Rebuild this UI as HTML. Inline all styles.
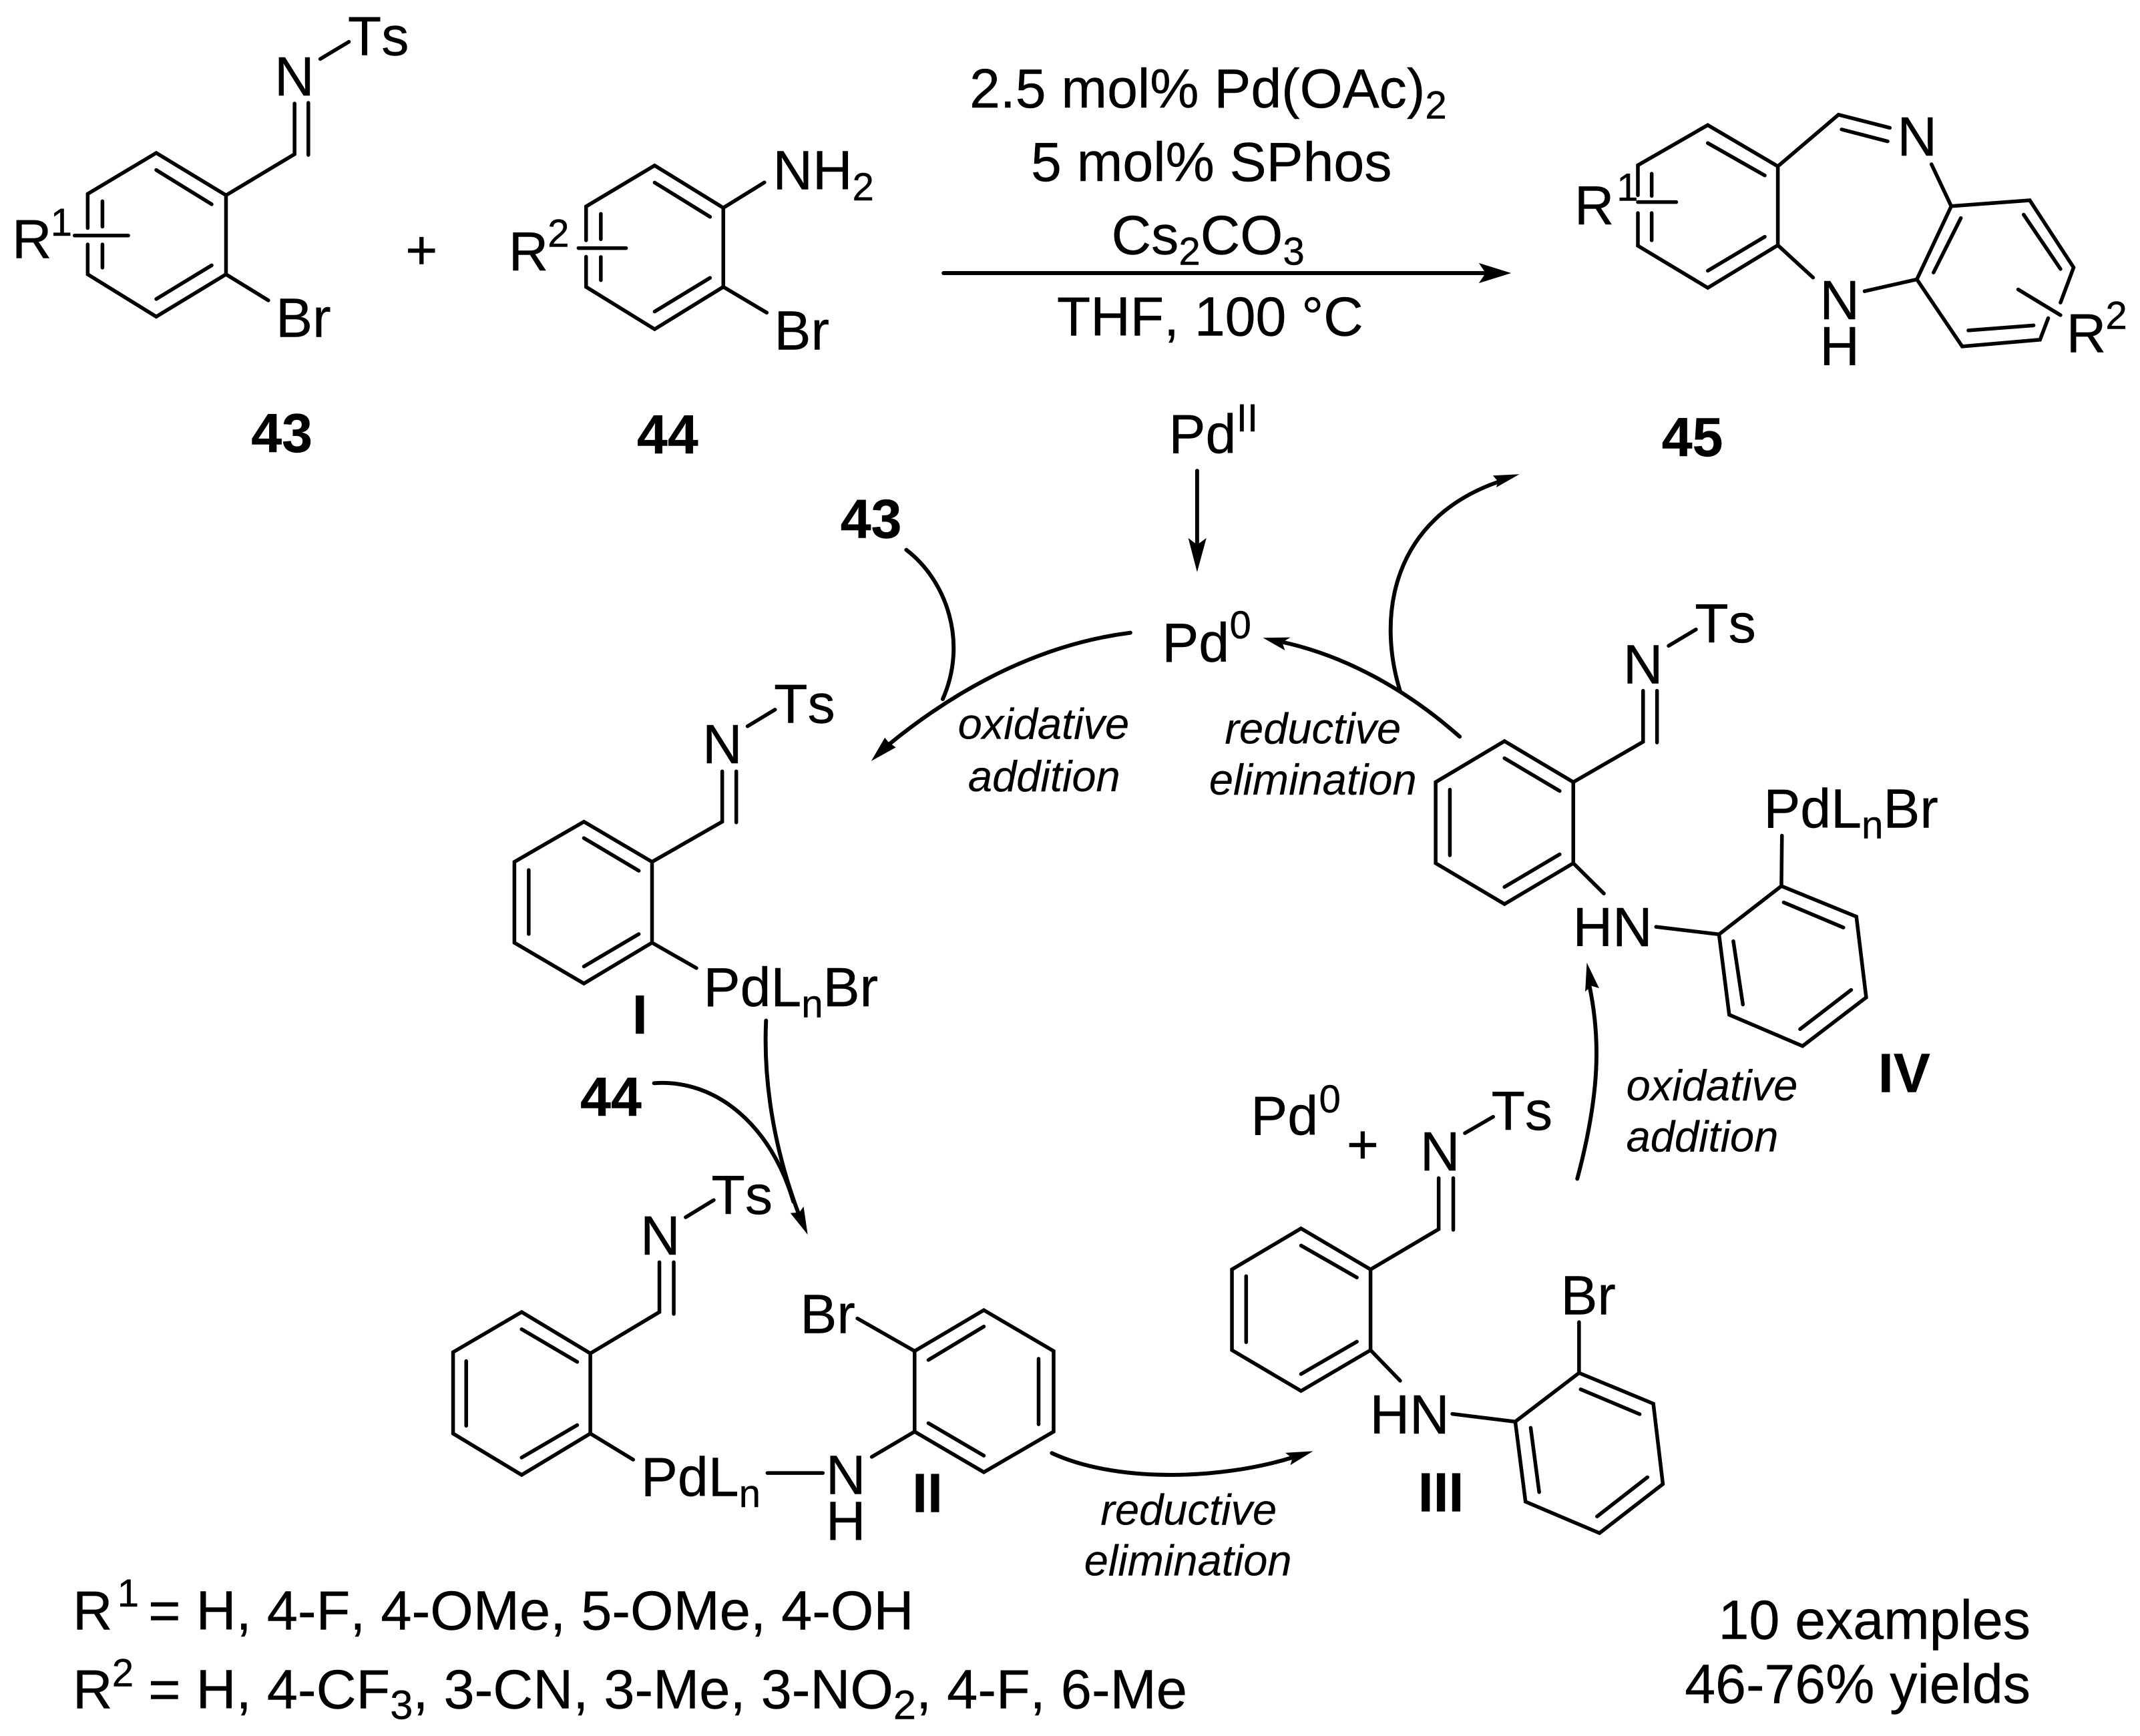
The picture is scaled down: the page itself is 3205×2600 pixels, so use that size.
<!DOCTYPE html>
<html>
<head>
<meta charset="utf-8">
<title>Dibenzodiazepine synthesis</title>
<style>
html,body{margin:0;padding:0;background:#fff;}
svg{display:block;}
text{font-family:"Liberation Sans",Arial,sans-serif;font-size:40.3px;fill:#000;stroke:#000;stroke-width:.2px;font-kerning:none;}
.s{font-size:28.5px;}
.b{font-weight:bold;}
.i{font-style:italic;font-size:31.8px;stroke-width:.1px;}
text.f{font-size:40.6px;}
.f .s{font-size:30px;}
</style>
</head>
<body>
<svg xmlns="http://www.w3.org/2000/svg" width="3205" height="2600" viewBox="0 0 1567.2 1271.4">
<rect x="0" y="0" width="1567.2" height="1271.4" fill="#fff"/>
<g fill="none" stroke="#000" stroke-width="2.7" stroke-linecap="round" stroke-linejoin="miter">
<!-- 43 -->
<path d="M64.2,167 V142 L114.4,112 L165.5,143 V200.9 L114.4,231.9 L64.2,200.9 V179 M114.4,124.5 L155,149.6 M114.4,219 L155,194.3 M75,147.4 V166 M75,179 V196 M54.6,172.5 H93.9 M165.5,143 L215.7,112.9 V75.8 M225.8,113.5 V75.3 M234.5,43.2 L255.5,30.6 M165.5,200.9 L196.5,220"/>
<!-- 44 -->
<path d="M429.2,176 V151.2 L479.4,121.2 L529.7,152.2 V210.1 L479.4,241.1 L429.2,210.1 V188 M479.4,133.7 L520,158.8 M479.4,228.2 L520,203.5 M440,156.6 V175.2 M440,188.2 V205.2 M423.6,181.7 H458.5 M529.7,152.2 L559.8,133.6 M529.7,210.1 L561.5,229"/>
<!-- main arrow -->
<path d="M691,200 H1090" stroke-width="2.9"/>
<!-- 45 -->
<path d="M1199.5,143 V121 L1250.7,91.6 L1302,121.8 V179.6 L1250.7,210.8 L1199.5,180 V156 M1250.7,104.8 L1292.4,128.5 M1250.7,198.3 L1292.4,173.4 M1209.6,127.2 V143.5 M1209.6,156 V176 M1199.5,148 H1227.6 M1302,121.8 L1346.4,84 L1384,93.6 M1348.7,94.8 L1382.4,103.5 M1414.5,120.3 L1429,151 L1486.5,146.7 L1518.6,195.9 L1509,221.6 M1500,233 L1494,248.8 L1437,253.7 L1403.8,204.6 L1429,151 M1436,159.7 L1416,199.6 M1482,157.2 L1509,197 M1441.5,242 L1489.3,238.3 M1478,212 L1509,230.8 M1403.8,204.6 L1365.5,213.3 M1302,179.6 L1327.8,203.3"/>
<!-- I -->
<path d="M427.6,601.8 L477.5,631.2 V690.4 L427.6,720.3 L376.7,690.4 V631.2 Z M427.6,613.8 L467.8,637.7 M427.6,707.8 L467.8,684.1 M387.2,637.2 V684.1 M477.5,631.2 L528.9,601.8 V564.9 M539.2,602.3 V564.9 M547.4,531.9 L567.6,519.7 M477.5,690.4 L510,709"/>
<!-- II -->
<path d="M382,960.9 L432.3,991.2 V1049.9 L382,1080.2 L331.8,1049.9 V990.3 Z M382,973.5 L422.7,997.4 M382,1067.5 L422.7,1043.7 M341.4,996.8 V1044.2 M432.3,991.2 L482.9,960.9 V924.4 M493.4,962.3 V924.4 M502.1,891.5 L522.7,878.9 M432.3,1049.9 L463.7,1069 M562,1078.8 H602.6 M638.4,1067 L669.8,1048.5 M669.8,989.5 L720.5,959.5 L771.6,989.5 V1048.5 L720.5,1078.2 L669.8,1048.5 Z M720.5,971.5 L679.9,996 M760.6,995.1 V1043.1 M679.9,1042.3 L720.5,1066.1 M627.9,965.6 L669.8,989.5"/>
<!-- III -->
<path d="M952.8,899.7 L1003.7,929.7 V988.8 L952.8,1018.7 L902.2,988.8 V929.7 Z M952.8,912.2 L993.7,935.6 M952.8,1006.3 L993.7,982.6 M912.6,934.6 V983 M1003.7,929.7 L1053.6,900.2 V862.8 M1064.3,900.7 V862.8 M1072.8,829.9 L1093.5,817.9 M1003.7,988.8 L1025.4,1011.2 M1063.6,1035.5 L1109.7,1041.2 M1109.7,1041.2 L1156.4,1005.5 L1210.8,1028 L1217.8,1086.9 L1171.4,1122.8 L1117.2,1099.8 Z M1157.6,1017.5 L1200.8,1035.7 M1206.5,1081.9 L1169.6,1110.6 M1121,1045.7 L1127.2,1092.8 M1156.4,1005.5 V968.3"/>
<!-- IV -->
<path d="M1101.8,542.8 L1152.2,572.8 V632.2 L1101.8,662.1 L1051.4,632.2 V572.8 Z M1101.8,555.3 L1142.2,579.3 M1101.8,649.6 L1142.2,625.7 M1061.8,578.3 V626.4 M1152.2,572.8 L1203.3,543.3 V505.9 M1213.5,543.8 V505.9 M1222,473 L1242,461 M1152.2,632.2 L1174.6,654.4 M1212.8,678.8 L1258.9,684.3 M1258.9,684.3 L1304.6,648.9 L1359.5,671.3 L1366.7,730.5 L1320.1,766.1 L1266.4,743.2 Z M1306.3,660.9 L1350,679.3 M1355.7,725 L1318.3,753.7 M1269.4,689.3 L1276.4,735.7 M1304.6,648.9 L1305,612"/>
</g>
<g fill="none" stroke="#000" stroke-width="2.9" stroke-linecap="round">
<!-- curved arrows -->
<path d="M876.7,344.8 V398"/>
<path d="M663.7,402.7 C693,425 709,470 690.4,512"/>
<path d="M827.8,463.4 C760,472 700,505 650,546"/>
<path d="M561,747.5 C559,790 566,840 586,892"/>
<path d="M479,793.3 C525,790 565,825 581,880"/>
<path d="M770.3,1064.2 C815,1085 890,1085 948,1067"/>
<path d="M1069,539.5 C1030,505 985,480 938,470"/>
<path d="M1025.4,506.3 C1008,450 1020,380 1097,353"/>
<path d="M1155.1,863.3 C1172,800 1172,760 1164,722"/>
</g>
<g fill="#000" stroke="none">
<polygon points="1106.7,200 1083,192.6 1088,200 1083,207.4"/>
<polygon points="876.7,419 870.2,394 876.7,399 883.5,394"/>
<polygon points="638,557.4 648,540.2 650.4,543.2 656,547.4"/>
<polygon points="591.5,904.2 578.8,888.4 585.4,887.9 588.5,883.6"/>
<polygon points="961.6,1062.8 941.3,1064 946.5,1068 945,1073"/>
<polygon points="924.9,467.1 945,466.8 939,470.5 941,476.3"/>
<polygon points="1112.7,347.3 1093.3,348.3 1097,352.5 1095.8,357"/>
<polygon points="1162.1,705 1160.9,726.2 1165.5,722 1171.1,723.7"/>
</g>

<!-- 43 -->
<text x="254.7" y="40.4">Ts</text>
<text x="201" y="70">N</text>
<text x="202" y="246.7">Br</text>
<text x="8.8" y="189">R</text>
<text class="s" x="37" y="172.5">1</text>
<text class="b" x="184" y="331">43</text>
<text x="308.7" y="197" text-anchor="middle">+</text>
<!-- 44 -->
<text x="566" y="138.6">NH<tspan class="s" dy="8">2</tspan></text>
<text x="567" y="256">Br</text>
<text x="372.5" y="198">R</text>
<text class="s" x="401" y="180.6">2</text>
<text class="b" x="466.5" y="332">44</text>
<!-- reagents -->
<text x="710" y="78.8">2.5 mol% Pd(OAc)<tspan class="s" dy="8">2</tspan></text>
<text x="755" y="132.5">5 mol% SPhos</text>
<text x="814" y="186">Cs<tspan class="s" dy="8">2</tspan><tspan dy="-8">CO</tspan><tspan class="s" dy="8">3</tspan></text>
<text x="774" y="245.8">THF, 100 °C</text>
<!-- 45 -->
<text x="1153" y="164.2">R</text>
<text class="s" x="1184" y="147">1</text>
<text x="1389.5" y="114">N</text>
<text x="1332.7" y="233.8">N</text>
<text x="1332.7" y="267.5">H</text>
<text x="1513.3" y="258">R</text>
<text class="s" x="1542" y="240.8">2</text>
<text class="b" x="1217" y="334">45</text>
<!-- Pd -->
<text x="856" y="331.8">Pd</text>
<text class="s" x="905.5" y="316">II</text>
<text x="851" y="484.6">Pd</text>
<text class="s" x="900.5" y="467.6">0</text>
<text class="b" x="615.5" y="394">43</text>
<!-- labels -->
<text class="i" x="701.5" y="541.2">oxidative</text>
<text class="i" x="709" y="579.4">addition</text>
<text class="i" x="897" y="544.5">reductive</text>
<text class="i" x="885.5" y="581.9">elimination</text>
<!-- I -->
<text x="514.5" y="558.9">N</text>
<text x="566.8" y="529.4">Ts</text>
<text x="515.2" y="737">PdL<tspan class="s" dy="8">n</tspan><tspan dy="-8">Br</tspan></text>
<text class="b" x="463" y="757">I</text>
<!-- II -->
<text class="b" x="425" y="817">44</text>
<text x="521" y="889">Ts</text>
<text x="469" y="918.8">N</text>
<text x="469.4" y="1095.6">PdL<tspan class="s" dy="8">n</tspan></text>
<text x="604.8" y="1094.2">N</text>
<text x="604.8" y="1127.9">H</text>
<text x="586" y="976.3">Br</text>
<text class="b" x="668" y="1107.4">II</text>
<text class="i" x="806" y="1116.7">reductive</text>
<text class="i" x="794" y="1153.7">elimination</text>
<!-- III -->
<text x="916" y="831.1">Pd</text>
<text class="s" x="966" y="814.6">0</text>
<text x="998" y="852" text-anchor="middle">+</text>
<text x="1040" y="857.3">N</text>
<text x="1092.2" y="827.4">Ts</text>
<text x="1003.2" y="1049.9">HN</text>
<text x="1143" y="962.6">Br</text>
<text class="b" x="1038.5" y="1106.8">III</text>
<!-- IV -->
<text x="1188.7" y="500.4">N</text>
<text x="1241.2" y="470.5">Ts</text>
<text x="1151.9" y="693">HN</text>
<text x="1291.6" y="606">PdL<tspan class="s" dy="8">n</tspan><tspan dy="-8">Br</tspan></text>
<text class="b" x="1375.5" y="799.8">IV</text>
<text class="i" x="1191" y="805.9">oxidative</text>
<text class="i" x="1191" y="843.3">addition</text>
<!-- footer -->
<text x="53.3" y="1193.5">R</text>
<text class="s" x="85.9" y="1176.5">1</text>
<text class="f" x="108.6" y="1193.5">= H, 4-F, 4-OMe, 5-OMe, 4-OH</text>
<text x="53.3" y="1251">R</text>
<text class="s" x="82" y="1235">2</text>
<text class="f" x="108.6" y="1251">= H, 4-CF<tspan class="s" dy="8">3</tspan><tspan dy="-8">, 3-CN, 3-Me, 3-NO</tspan><tspan class="s" dy="8">2</tspan><tspan dy="-8">, 4-F, 6-Me</tspan></text>
<text x="1487" y="1200.2" text-anchor="end">10 examples</text>
<text x="1487" y="1247.3" text-anchor="end">46-76% yields</text>
</svg>
</body>
</html>
